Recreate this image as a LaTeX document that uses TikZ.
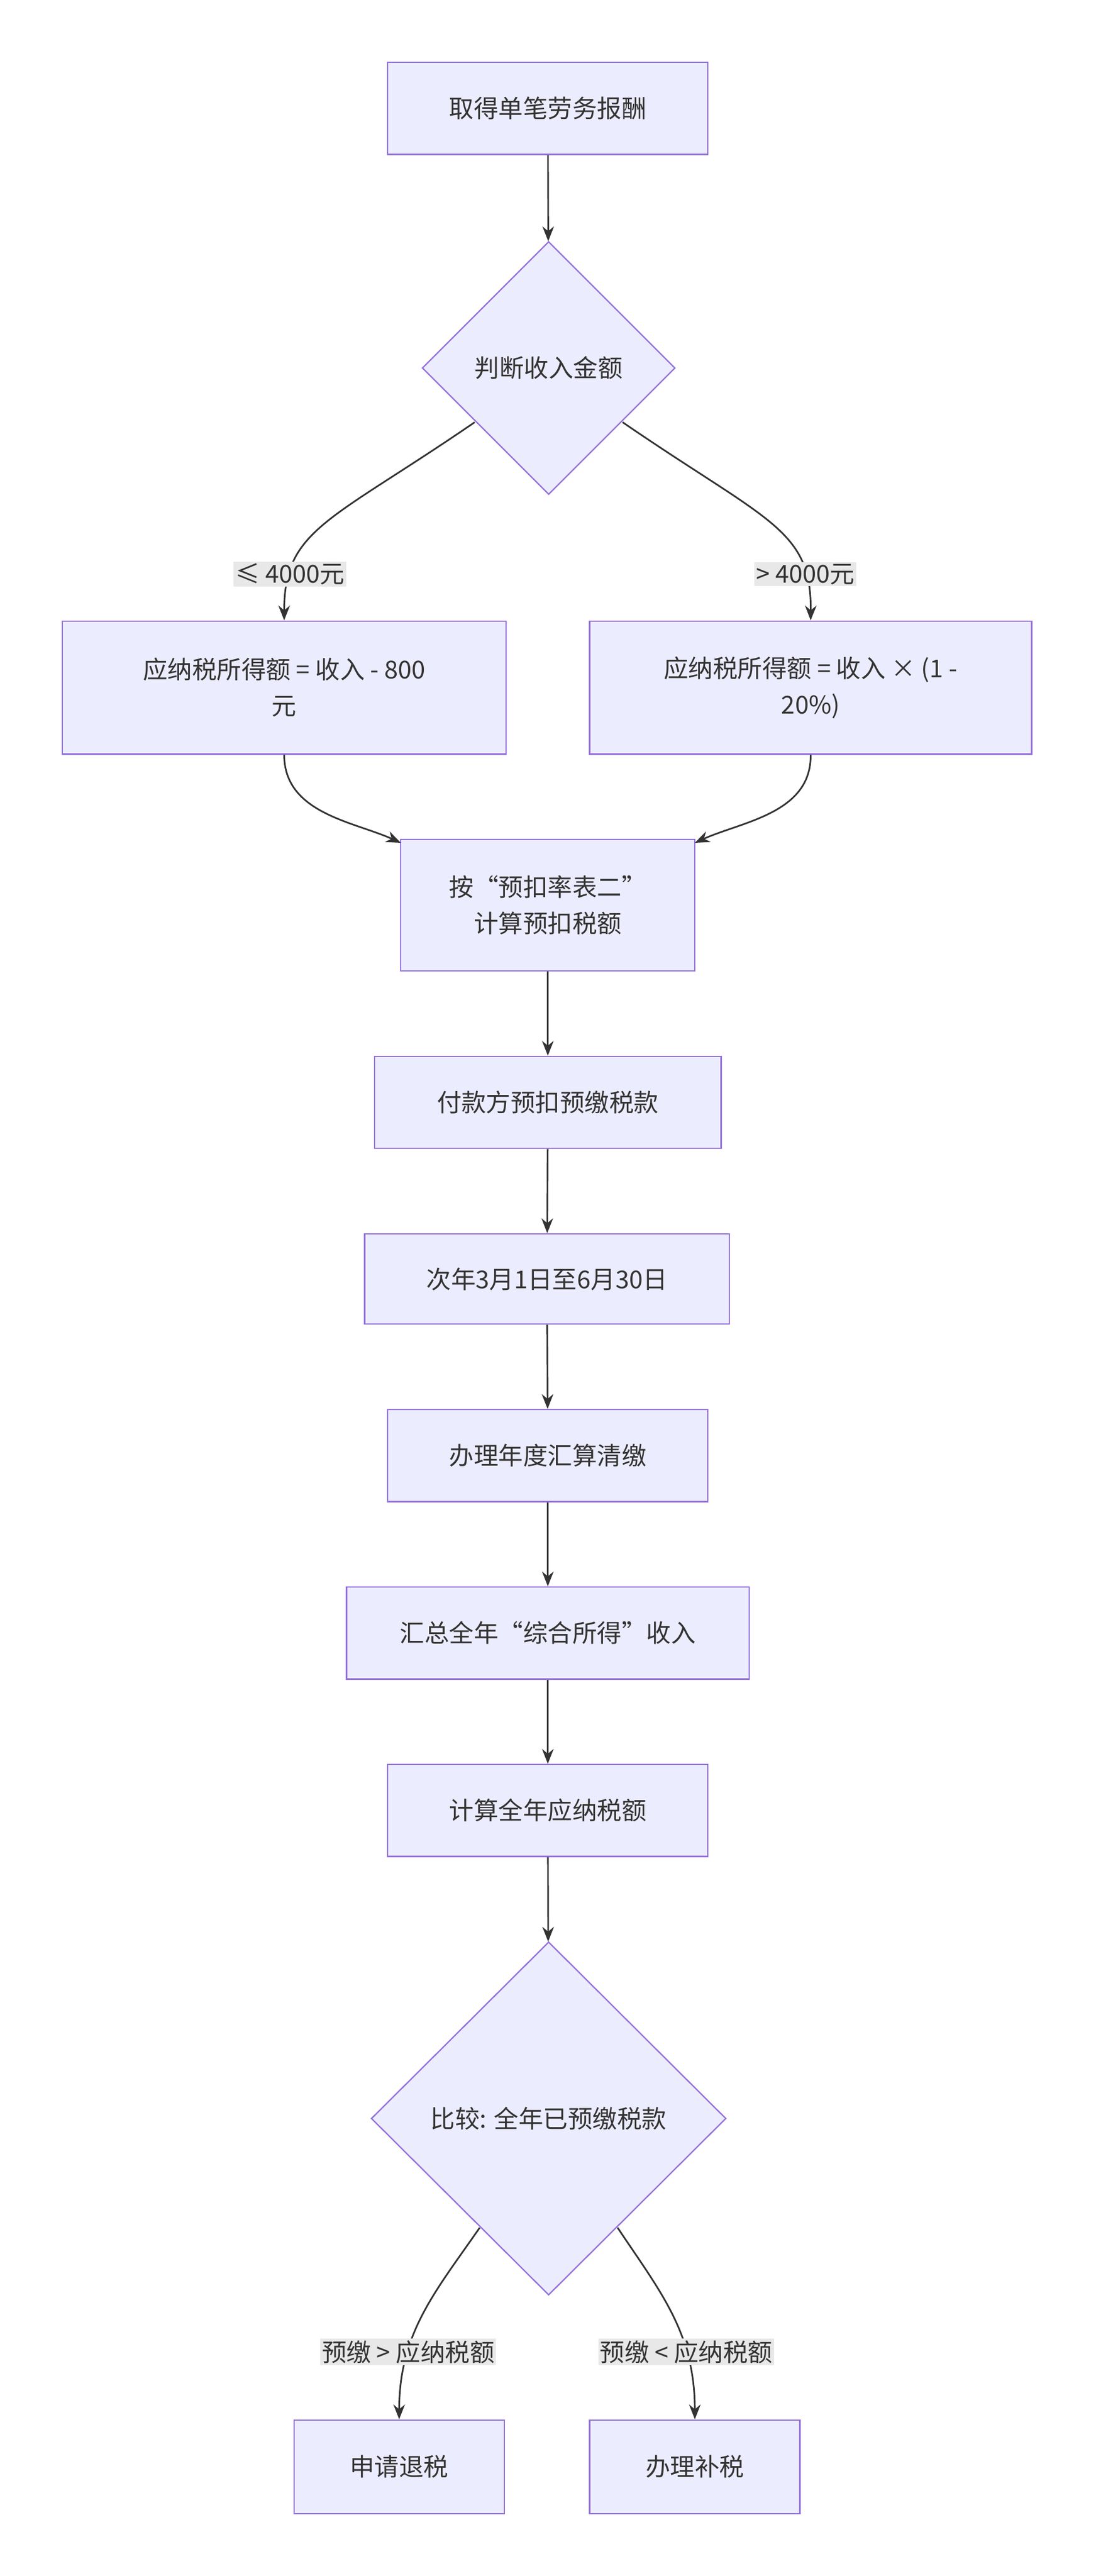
\documentclass[tikz,border=0pt]{standalone}
\usepackage{fontspec}
\setmainfont{Noto Sans CJK SC}
\usetikzlibrary{arrows.meta,shapes.geometric}
\definecolor{nf}{HTML}{ECECFF}
\definecolor{ns}{HTML}{9370DB}
\definecolor{tx}{HTML}{333333}
\definecolor{lb}{HTML}{E8E8E8}
\begin{document}
\begin{tikzpicture}[x=1pt,y=-1pt,
  box/.style={draw=ns,fill=nf,line width=0.8pt,text=tx,font=\fontsize{15}{22}\selectfont,align=center,inner sep=0pt},
  dia/.style={diamond,draw=ns,fill=nf,line width=0.8pt,text=tx,font=\fontsize{15}{22}\selectfont,inner sep=0pt},
  lab/.style={fill=lb,text=tx,font=\fontsize{15}{20}\selectfont,inner sep=1pt},
  ar/.style={draw=tx,line width=1pt,-{Stealth[length=9pt,width=7pt]}}]
\useasboundingbox (0,0) rectangle (667,1568);
\node[box,minimum width=195pt,minimum height=56pt] (b1) at (333.5,66) {取得单笔劳务报酬};
\node[dia,minimum width=154pt,minimum height=154pt] (d1) at (334,224) {判断收入金额};
\node[box,minimum width=270pt,minimum height=81pt] (bl) at (173,418.5) {应纳税所得额 = 收入 - 800\\元};
\node[box,minimum width=269pt,minimum height=81pt] (br) at (493.5,418.5) {应纳税所得额 = 收入 × (1 -\\20\%)};
\node[box,minimum width=179pt,minimum height=80pt] (b3) at (333.5,551) {按“预扣率表二”\\计算预扣税额};
\node[box,minimum width=211pt,minimum height=56pt] (b4) at (333.5,671) {付款方预扣预缴税款};
\node[box,minimum width=222pt,minimum height=55pt] (b5) at (333,778.5) {次年3月1日至6月30日};
\node[box,minimum width=195pt,minimum height=56pt] (b6) at (333.5,886) {办理年度汇算清缴};
\node[box,minimum width=245pt,minimum height=56pt] (b7) at (333.5,994) {汇总全年“综合所得”收入};
\node[box,minimum width=195pt,minimum height=56pt] (b8) at (333.5,1102) {计算全年应纳税额};
\node[dia,minimum width=216pt,minimum height=215pt] (d2) at (334,1289.5) {比较: 全年已预缴税款};
\node[box,minimum width=128pt,minimum height=57pt] (b9) at (243,1501.5) {申请退税};
\node[box,minimum width=128pt,minimum height=57pt] (b10) at (423,1501.5) {办理补税};
\coordinate (d1l) at (289,257); \coordinate (d1r) at (379,257);
\coordinate (d2l) at (292,1356); \coordinate (d2r) at (376,1356);
\draw[ar] (b1) -- (d1);
\draw[ar] (d1l) .. controls (200,318) and (173,322) .. node[lab,pos=0.8]{≤ 4000元} (bl.north);
\draw[ar] (d1r) .. controls (468,318) and (494,322) .. node[lab,pos=0.8]{> 4000元} (br.north);
\draw[ar] (bl.south) .. controls (173,495) and (215,500) .. (244,513);
\draw[ar] (br.south) .. controls (494,495) and (452,500) .. (423,513);
\draw[ar] (b3) -- (b4);
\draw[ar] (b4) -- (b5);
\draw[ar] (b5) -- (b6);
\draw[ar] (b6) -- (b7);
\draw[ar] (b7) -- (b8);
\draw[ar] (b8) -- (d2);
\draw[ar] (d2l) .. controls (265,1395) and (243,1420) .. node[lab,pos=0.7]{预缴 > 应纳税额} (b9.north);
\draw[ar] (d2r) .. controls (402,1395) and (423,1420) .. node[lab,pos=0.7]{预缴 < 应纳税额} (b10.north);
\end{tikzpicture}
\end{document}
